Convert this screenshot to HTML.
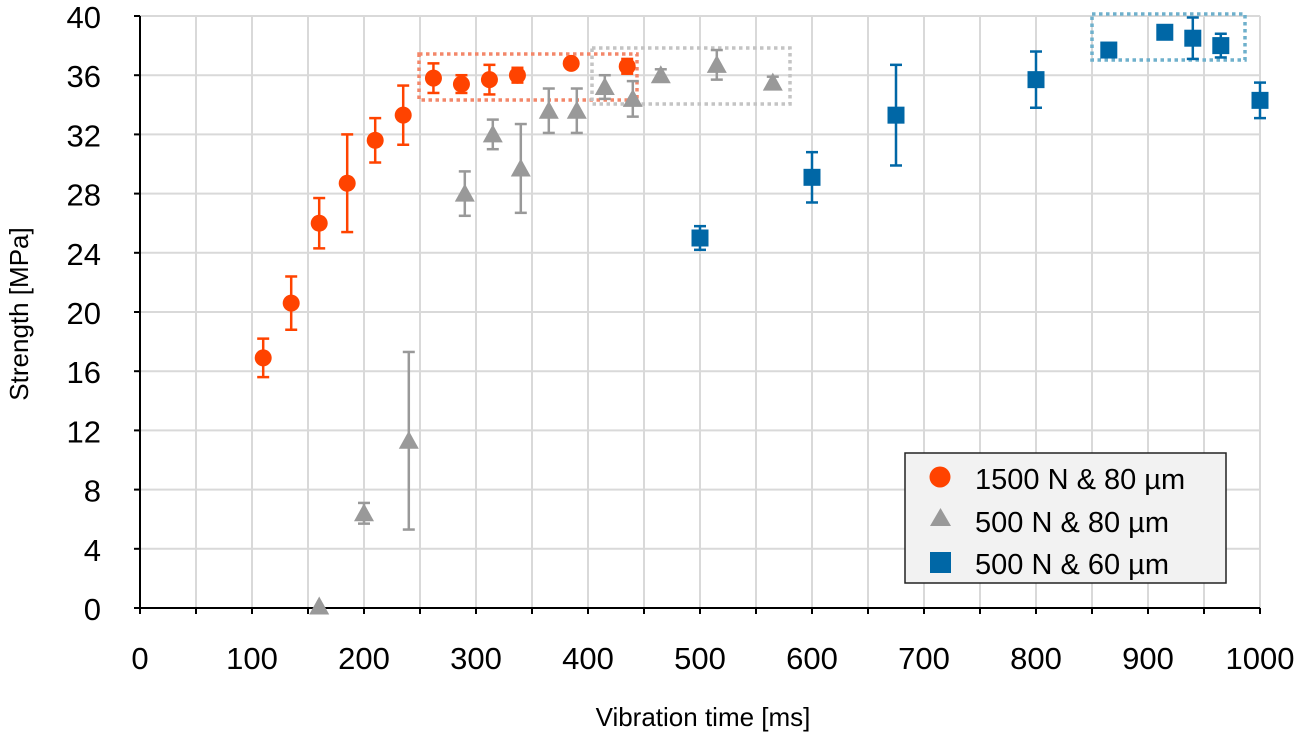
<!DOCTYPE html>
<html><head><meta charset="utf-8"><style>
body{margin:0;background:#fff;}
svg{display:block;font-family:"Liberation Sans",sans-serif;}
</style></head><body>
<svg id="chart" width="1301" height="735" viewBox="0 0 1301 735"></svg>
<script>
const redX=[110,135,160,185,210,235,262,287,312,337,385,435];
const redY=[16.9,20.6,26,28.7,31.6,33.3,35.8,35.4,35.7,36,36.8,36.6];
const redE=[1.3,1.8,1.7,3.3,1.5,2,1,0.6,1,0.5,0.3,0.5];
const grayX=[160,200,240,290,315,340,365,390,415,440,465,515,565];
const grayY=[0.1,6.4,11.3,28,32,29.7,33.6,33.6,35.2,34.4,36,36.7,35.5];
const grayE=[0,0.7,6,1.5,1,3,1.5,1.5,0.8,1.2,0.4,1,0.4];
const blueX=[500,600,675,800,865,915,940,965,1000];
const blueY=[25,29.1,33.3,35.7,37.7,38.9,38.5,38,34.3];
const blueE=[0.8,1.7,3.4,1.9,0,0.3,1.4,0.8,1.2];
const xTicks=[0,100,200,300,400,500,600,700,800,900,1000];
const yTicks=[0,4,8,12,16,20,24,28,32,36,40];
const NS="http://www.w3.org/2000/svg";
const svg=document.getElementById('chart');
const X=v=>140+v*1.12, Y=v=>608-v*14.8;
function mk(t,a,p){const e=document.createElementNS(NS,t);for(const k in a)e.setAttribute(k,a[k]);(p||svg).appendChild(e);return e;}
for(let v=50;v<=1000;v+=50){const g=mk('line',{x1:X(v),x2:X(v),y1:Y(40),y2:Y(0),stroke:'#d9d9d9','stroke-width':2});

}
yTicks.forEach(v=>{if(v===0)return;const g=mk('line',{x1:X(0),x2:X(1000),y1:Y(v),y2:Y(v),stroke:'#d9d9d9','stroke-width':2});

});
const ax=mk('line',{x1:X(0)-6,x2:X(1000),y1:Y(0),y2:Y(0),stroke:'#000','stroke-width':2});


const ay=mk('line',{x1:X(0),x2:X(0),y1:Y(0),y2:Y(40),stroke:'#000','stroke-width':2});


for(let v=0;v<=1000;v+=50){mk('line',{x1:X(v),x2:X(v),y1:Y(0),y2:Y(0)+6,stroke:'#000','stroke-width':2});}
yTicks.forEach(v=>{mk('line',{x1:X(0)-6,x2:X(0),y1:Y(v),y2:Y(v),stroke:'#000','stroke-width':2});
const t=mk('text',{x:101,y:Y(v)+12,'text-anchor':'end','font-size':31});t.textContent=v;

});
xTicks.forEach(v=>{const t=mk('text',{x:X(v),y:669,'text-anchor':'middle','font-size':31});t.textContent=v;

});
const xt=mk('text',{x:703,y:726,'text-anchor':'middle','font-size':26});xt.textContent='Vibration time [ms]';


const yt=mk('text',{x:0,y:0,'text-anchor':'middle','font-size':26,transform:'translate(28,314) rotate(-90)'});yt.textContent='Strength [MPa]';


[[419,637,54,100,'#f3876a'],[592,790,48,104,'#c4c4c4'],[1092,1245,14,60,'#6fb0cc']].forEach(b=>{
const r=mk('rect',{x:b[0],y:b[2],width:b[1]-b[0],height:b[3]-b[2],fill:'none',stroke:b[4],'stroke-width':3.5,'stroke-dasharray':'3.5 3.5'});

});
function marker(shape,cx,cy,col,p){
if(shape==='c')return mk('circle',{cx,cy,r:8.5,fill:col},p);
if(shape==='t')return mk('polygon',{points:`${cx-10},${cy+8} ${cx+10},${cy+8} ${cx},${cy-10}`,fill:col},p);
return mk('rect',{x:cx-8.5,y:cy-8.5,width:17,height:17,fill:col},p);}
function series(xs,ys,es,col,shape,name){
const g=mk('g',{});


xs.forEach((x,i)=>{const cx=X(x),y1=Y(ys[i]+es[i]),y2=Y(ys[i]-es[i]);
if(es[i]>0){mk('line',{x1:cx,x2:cx,y1,y2,stroke:col,'stroke-width':2.5},g);
mk('line',{x1:cx-6,x2:cx+6,y1,y2:y1,stroke:col,'stroke-width':2.5},g);
mk('line',{x1:cx-6,x2:cx+6,y1:y2,y2,stroke:col,'stroke-width':2.5},g);}
const m=marker(shape,cx,Y(ys[i]),col,g);

});}
series(grayX,grayY,grayE,'#999999','t','series-500n-80um');
series(blueX,blueY,blueE,'#0067a6','s','series-500n-60um');
series(redX,redY,redE,'#ff4300','c','series-1500n-80um');
</script>
<svg style="position:absolute;left:0;top:0" width="1301" height="735">
<rect x="905" y="453" width="321" height="130" fill="#f2f2f2" stroke="#222" stroke-width="1.5"/>
<g><circle cx="940" cy="477" r="10.5" fill="#ff4300"/><text x="975" y="489" font-size="29" font-family="Liberation Sans,sans-serif">1500 N &amp; 80 µm</text></g>
<g><polygon points="930,526 951,526 940.5,508" fill="#999"/><text x="975" y="532" font-size="29" font-family="Liberation Sans,sans-serif">500 N &amp; 80 µm</text></g>
<g><rect x="930" y="552" width="21" height="21" fill="#0067a6"/><text x="975" y="574" font-size="29" font-family="Liberation Sans,sans-serif">500 N &amp; 60 µm</text></g>
</svg>
</body></html>
